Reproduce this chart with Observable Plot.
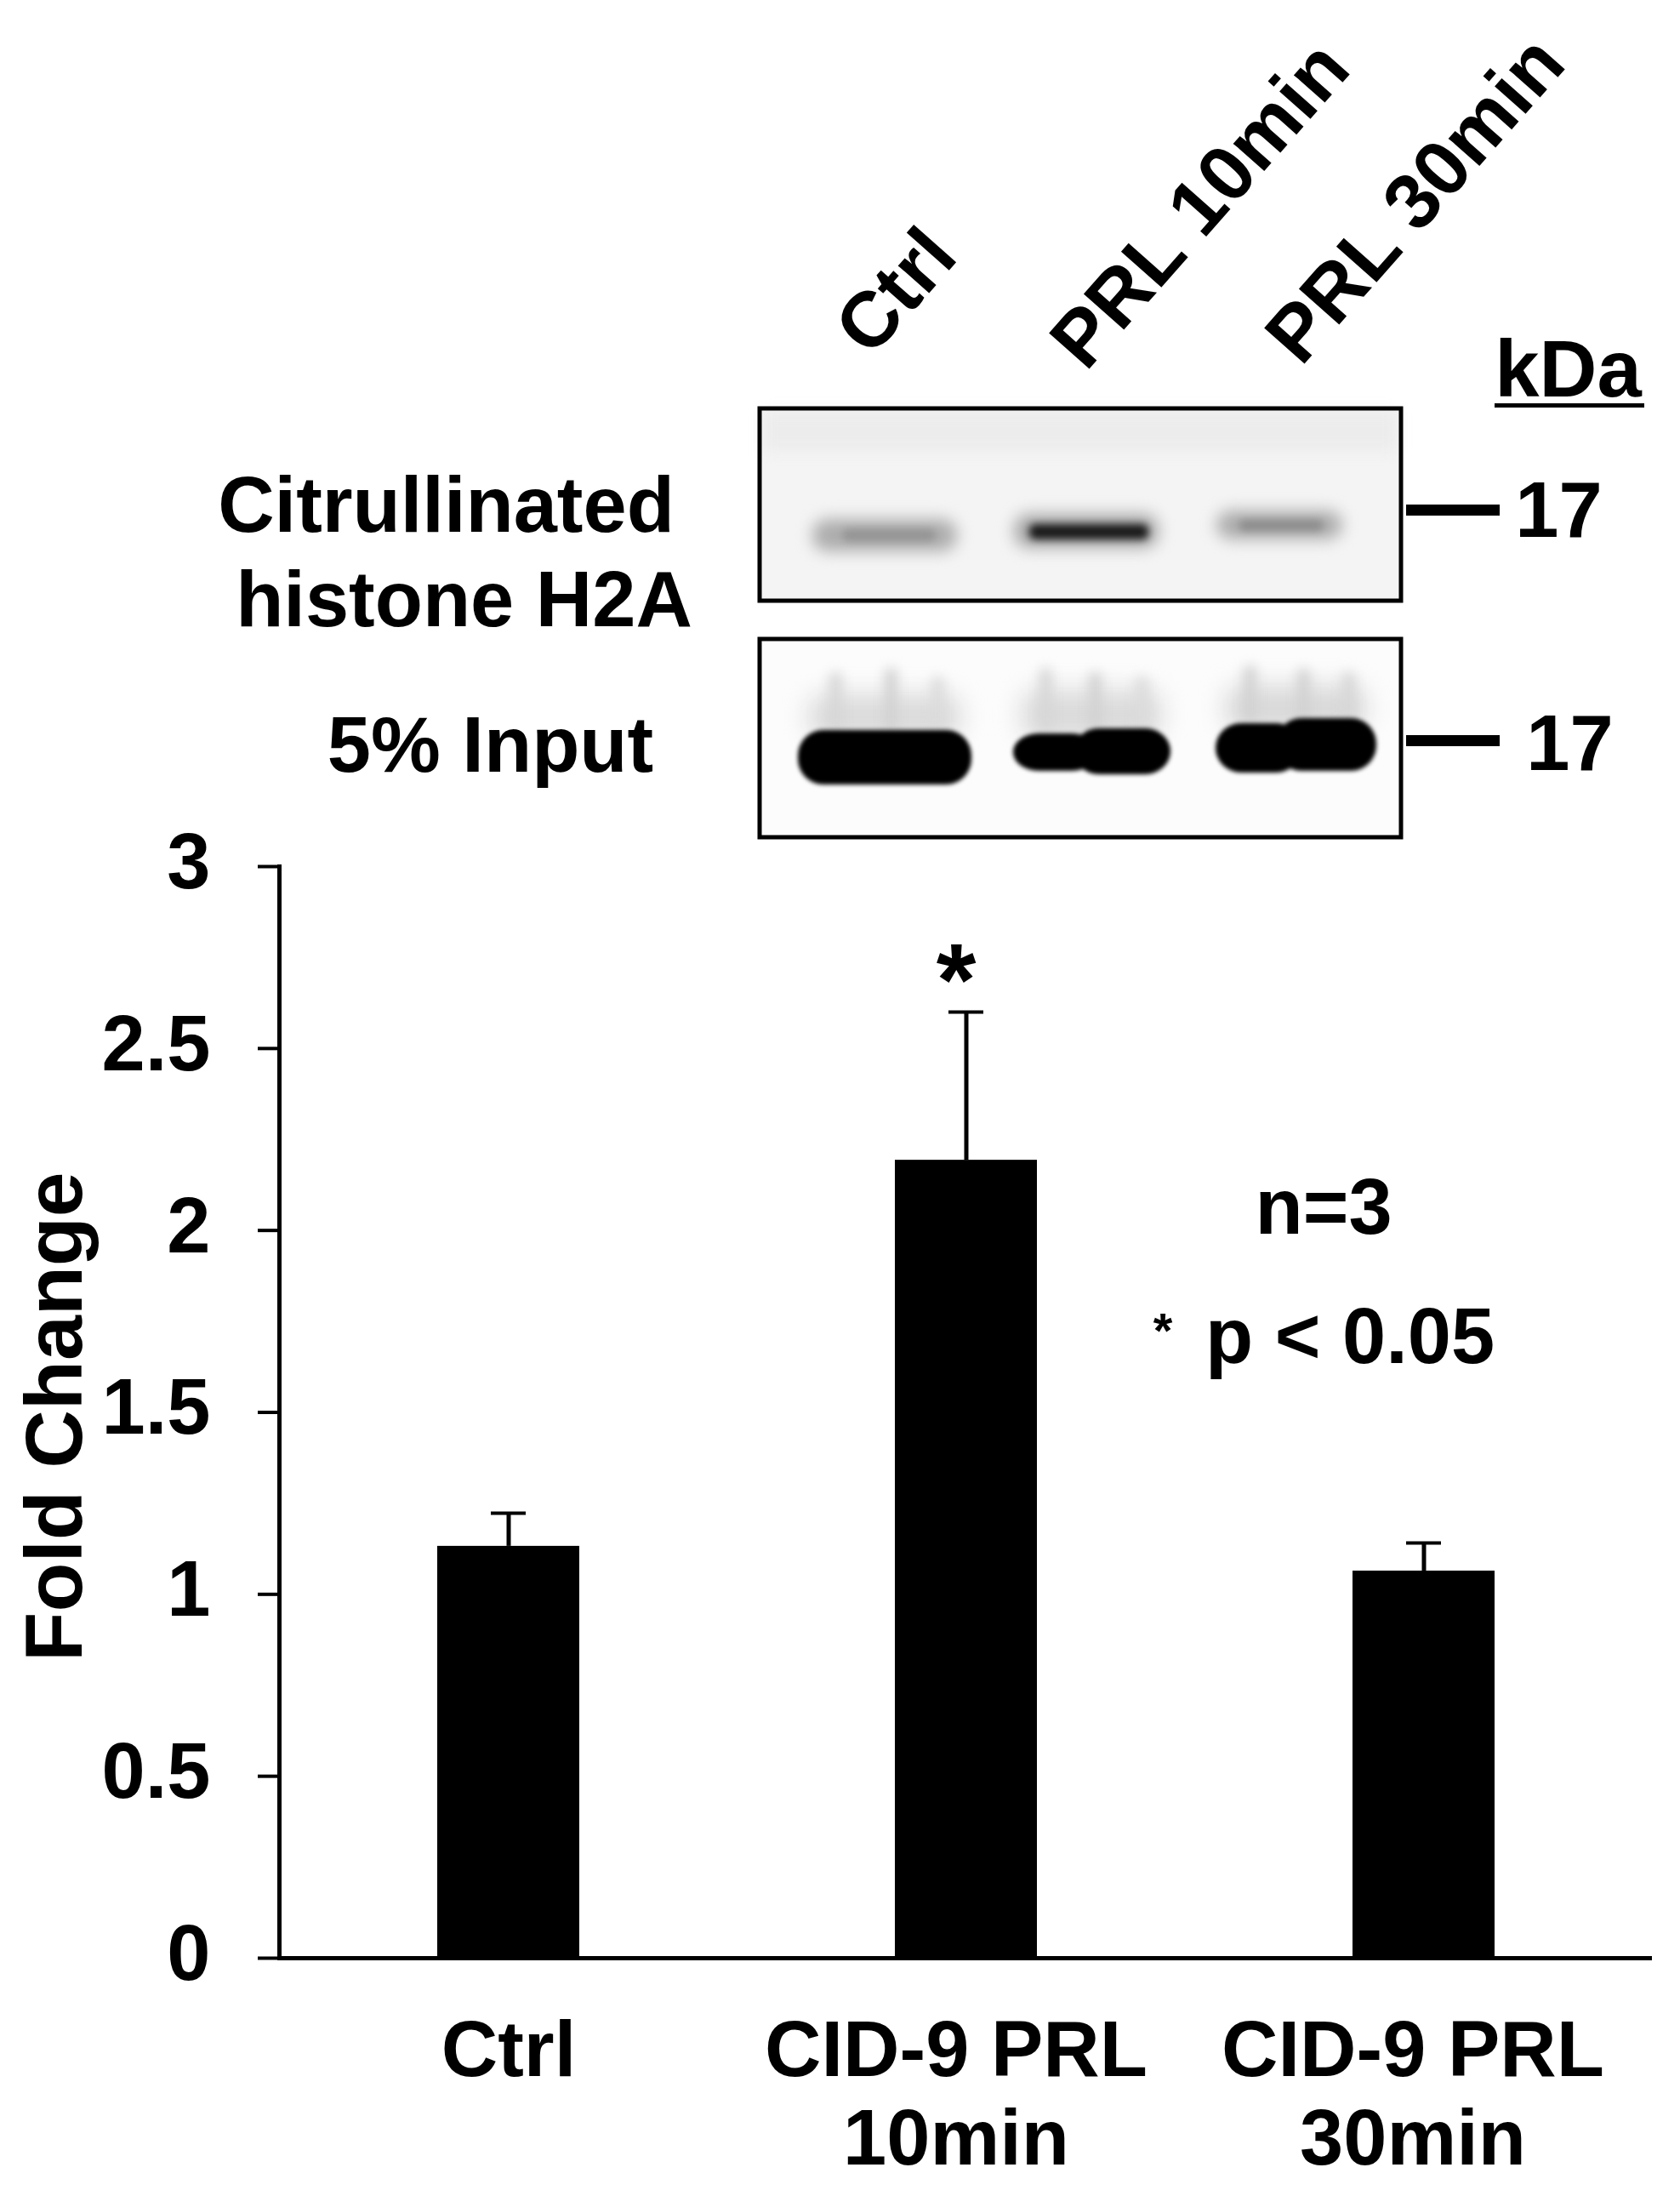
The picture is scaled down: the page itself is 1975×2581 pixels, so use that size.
<!DOCTYPE html>
<html>
<head>
<meta charset="utf-8">
<script src="https://cdn.jsdelivr.net/npm/d3@7"></script>
<script src="https://cdn.jsdelivr.net/npm/@observablehq/plot@0.6"></script>
<style>
html,body{margin:0;padding:0;background:#fff}
svg{display:block}
#blot{height:940px}
</style>
</head>
<body>
<div id="blot"></div>
<div id="chart"></div>
<script>
// ---- bar chart values
const categories = ["Ctrl", "CID-9 PRL\n10min", "CID-9 PRL\n30min"];
const foldChange = [1.132, 2.193, 1.064];
const errorTop = [1.223, 2.6, 1.141];
const yTicks = [0, 0.5, 1, 1.5, 2, 2.5, 3];
const categoryNudge = [0, -12, -13];

// ---- blot: sheet coordinates (the picture's own pixel grid)
const laneLabels = ["Ctrl", "PRL 10min", "PRL 30min"];
const laneLabelX = [1001, 1254, 1507];
const laneLabelY = [402, 418, 412];
const panelX = [893, 1647];
const panelTop = [480, 751];
const panelBottom = [706, 984];
const panelShade = [0.045, 0.012];
const sideLabels = ["Citrullinated", "histone H2A", "5% Input"];
const sideLabelX = [524, 545, 576];
const sideLabelY = [595, 706, 877];
const sizeLabels = ["17", "17"];
const sizeLabelX = [1832, 1845];
const sizeLabelY = [601, 875];

// Bands: lane extents, vertical extents, darkness
const faintX1 = [955, 1192, 1430], faintX2 = [1125, 1362, 1578];
const faintY1 = [610, 604, 600], faintY2 = [648, 644, 634];
const faintDark = [0.32, 0.34, 0.32];
const coreX1 = [990, 1210, 1456], coreX2 = [1100, 1350, 1556];
const coreY1 = [622, 616, 611], coreY2 = [636, 634, 624];
const coreDark = [0.42, 0.9, 0.45];
const smearX1 = [950, 1200, 1440], smearX2 = [1130, 1366, 1606];
const smearY1 = [815, 810, 805], smearY2 = [870, 870, 860];
const smearDark = [0.14, 0.14, 0.15];
const streakX1 = [975, 1040, 1095, 1222, 1280, 1335, 1462, 1525, 1578];
const streakX2 = [990, 1055, 1110, 1237, 1295, 1350, 1477, 1540, 1593];
const streakY1 = [790, 785, 795, 785, 790, 795, 782, 786, 790];
const streakY2 = [860, 860, 860, 860, 860, 860, 850, 850, 850];
const streakDark = [0.16, 0.18, 0.14, 0.16, 0.18, 0.14, 0.18, 0.18, 0.16];
const inputX1 = [938, 1191, 1429, 1262, 1500], inputX2 = [1142, 1290, 1530, 1376, 1618];
const inputY1 = [858, 862, 850, 856, 844], inputY2 = [922, 906, 908, 910, 906];
const topStripY = [484, 530];

const rows = (x1, x2, y1, y2, v) => x1.map((_, i) => ({x1: x1[i], x2: x2[i], y1: y1[i], y2: y2[i], v: v[i]}));
const font = {fontFamily: "Liberation Sans, Arial, sans-serif", fontWeight: "bold", fontSize: 92, fill: "#000"};

const panels = panelTop.map((t, i) => ({x1: panelX[0], x2: panelX[1], y1: t, y2: panelBottom[i], v: panelShade[i]}));
const bandOpts = {x1: "x1", x2: "x2", y1: "y1", y2: "y2", fill: "v"};

const blot = Plot.plot({
  width: 1975, height: 990,
  margin: 0,
  x: {domain: [0, 1975], range: [0, 1975], axis: null},
  y: {domain: [0, 990], range: [0, 990], axis: null},
  color: {type: "linear", domain: [0, 1], range: ["#ffffff", "#000000"]},
  marks: [
    Plot.rect(panels, bandOpts),
    Plot.rect([{x1: panelX[0] + 4, x2: panelX[1] - 4, y1: topStripY[0], y2: topStripY[1], v: 0.075}],
      {...bandOpts, imageFilter: "blur(8px)"}),
    Plot.rect(rows(faintX1, faintX2, faintY1, faintY2, faintDark), {...bandOpts, rx: 18, imageFilter: "blur(9px)"}),
    Plot.rect(rows(coreX1, coreX2, coreY1, coreY2, coreDark), {...bandOpts, rx: 7, imageFilter: "blur(5px)"}),
    Plot.rect(rows(smearX1, smearX2, smearY1, smearY2, smearDark), {...bandOpts, rx: 20, imageFilter: "blur(14px)"}),
    Plot.rect(rows(streakX1, streakX2, streakY1, streakY2, streakDark), {...bandOpts, rx: 7, imageFilter: "blur(7px)"}),
    Plot.rect(rows(inputX1, inputX2, inputY1, inputY2, [1, 1, 1, 1, 1]), {...bandOpts, rx: 30, imageFilter: "blur(2.5px)"}),
    Plot.rect(panels, {x1: "x1", x2: "x2", y1: "y1", y2: "y2", fill: "none", stroke: "#000", strokeWidth: 5}),
    Plot.ruleY([599, 870], {y: d => d, x1: 1653, x2: 1763, stroke: "#000", strokeWidth: 13}),
    Plot.ruleY([476], {y: d => d, x1: 1757, x2: 1933, stroke: "#000", strokeWidth: 5}),
    Plot.text(laneLabels, {text: d => d, x: (d, i) => laneLabelX[i], y: (d, i) => laneLabelY[i],
      textAnchor: "start", lineAnchor: "middle", rotate: -48.5, ...font, fontSize: 92}),
    Plot.text(sideLabels, {text: d => d, x: (d, i) => sideLabelX[i], y: (d, i) => sideLabelY[i],
      textAnchor: "middle", lineAnchor: "middle", ...font}),
    Plot.text(sizeLabels, {text: d => d, x: (d, i) => sizeLabelX[i], y: (d, i) => sizeLabelY[i],
      textAnchor: "middle", lineAnchor: "middle", ...font}),
    Plot.text(["kDa"], {text: d => d, x: [1843], y: [435], textAnchor: "middle", lineAnchor: "middle", ...font, fontSize: 94})
  ]
});
document.getElementById("blot").append(blot);

// ---- bar chart
const bars = categories.map((c, i) => ({c, v: foldChange[i], hi: errorTop[i]}));
const axisFont = {fontFamily: font.fontFamily, fontWeight: font.fontWeight, fontSize: font.fontSize};
const chart = Plot.plot({
  width: 1975, height: 1641,
  marginLeft: 328, marginRight: 33, marginTop: 78, marginBottom: 280,
  style: {color: "#000", background: "transparent"},
  x: {domain: categories, paddingInner: 0.69, paddingOuter: 0.345, label: null},
  y: {domain: [0, 3], label: null},
  marks: [
    Plot.frame({anchor: "left", stroke: "#000", strokeWidth: 5}),
    Plot.ruleY([0], {stroke: "#000", strokeWidth: 5}),
    Plot.axisY({ticks: yTicks, tickSize: 25, tickFormat: () => "", label: null, stroke: "#000", strokeWidth: 4}),
    Plot.axisY({ticks: yTicks, tickSize: 0, tickPadding: 81, dy: -4, tickFormat: d => String(d), label: null,
      ...axisFont, fill: "#000"}),
    ...categories.map((c, i) => Plot.axisX([c], {tickSize: 0, tickPadding: 65, dx: categoryNudge[i], lineHeight: 1.13,
      label: null, ...axisFont, fill: "#000"})),
    Plot.barY(bars, {x: "c", y: "v", fill: "#000"}),
    Plot.ruleX(bars, {x: "c", y1: "v", y2: "hi", stroke: "#000", strokeWidth: 5}),
    Plot.tickY(bars, {x: "c", y: "hi", stroke: "#000", strokeWidth: 4, insetLeft: 63, insetRight: 63}),
    Plot.text(["*"], {x: [categories[1]], y: [2.79], text: d => d, lineAnchor: "middle", dx: -12, dy: 46, ...axisFont, fontSize: 120, fill: "#000"}),
    Plot.text(["n=3"], {x: [categories[2]], y: [2.06], text: d => d, lineAnchor: "middle", dx: -118, ...axisFont, fill: "#000"}),
    Plot.text(["p < 0.05"], {x: [categories[2]], y: [1.705], text: d => d, lineAnchor: "middle", dx: -87, ...axisFont, fill: "#000"}),
    Plot.text(["*"], {x: [categories[2]], y: [1.75], text: d => d, lineAnchor: "middle", dx: -307, dy: 12, ...axisFont, fontSize: 58, fill: "#000"}),
    Plot.text(["Fold Change"], {frameAnchor: "left", text: d => d, dx: -263, dy: 5, rotate: -90, textAnchor: "middle",
      lineAnchor: "middle", ...axisFont, fontSize: 95, fill: "#000"})
  ]
});
document.getElementById("chart").append(chart);
</script>
</body>
</html>
